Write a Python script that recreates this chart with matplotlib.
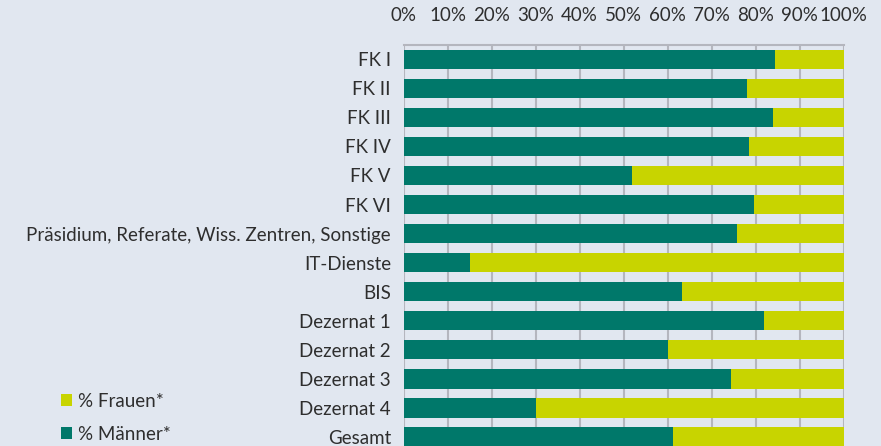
import numpy as np
import matplotlib
matplotlib.use("Agg")
import matplotlib.pyplot as plt
from matplotlib.ticker import PercentFormatter

# data (share of men in %, women = rest)
cats = ["FK I", "FK II", "FK III", "FK IV", "FK V", "FK VI",
        "Präsidium, Referate, Wiss. Zentren, Sonstige", "IT-Dienste", "BIS",
        "Dezernat 1", "Dezernat 2", "Dezernat 3", "Dezernat 4", "Gesamt"]
maenner = [84.4, 78.0, 83.9, 78.5, 51.9, 79.6, 75.7, 15.0, 63.4, 82.0, 60.0, 74.4, 30.0, 61.3]
frauen = [100 - m for m in maenner]
xticks = list(range(0, 101, 10))

bg = "#E1E7F0"
green = "#00786A"
yellow = "#C8D400"
txt = "#2E2E2E"
fs = 13.5

plt.rcParams["font.family"] = ["Lato", "DejaVu Sans"]

fig = plt.figure(figsize=(8.81, 4.46), dpi=100, facecolor=bg)
ax = fig.add_axes([403.5/881, -0.0126, 440/881, 0.9126])
ax.set_facecolor(bg)

y = np.arange(len(cats))
hm = ax.barh(y, maenner, height=0.66, color=green, label="% Männer*", zorder=3)
hf = ax.barh(y, frauen, left=maenner, height=0.66, color=yellow, label="% Frauen*", zorder=3)

ax.set_xlim(0, 100)
ax.set_ylim(len(cats) - 0.5, -0.5)
ax.set_yticks(y)
ax.set_yticklabels(cats, fontsize=fs, color=txt)
ax.set_xticks(xticks)
ax.xaxis.set_major_formatter(PercentFormatter(decimals=0))
ax.xaxis.tick_top()
ax.tick_params(axis="x", length=0, pad=15, labelsize=fs, labelcolor=txt)
ax.tick_params(axis="y", length=0, pad=9)
ax.grid(axis="x", color="#B4B6BE", lw=1.5, zorder=1)
for s in ["bottom", "left", "right"]:
    ax.spines[s].set_visible(False)
ax.spines["top"].set_color("#B4B6BE")
ax.spines["top"].set_linewidth(1.5)

fig.legend(handles=[hf, hm], labels=["% Frauen*", "% Männer*"], loc="upper left",
           bbox_to_anchor=(44/881, 1 - 376/446), frameon=False, fontsize=fs,
           handlelength=0.6, handleheight=0.6, handletextpad=0.3, labelspacing=0.85,
           labelcolor=txt)

fig.savefig("out.png", dpi=100, facecolor=bg)
